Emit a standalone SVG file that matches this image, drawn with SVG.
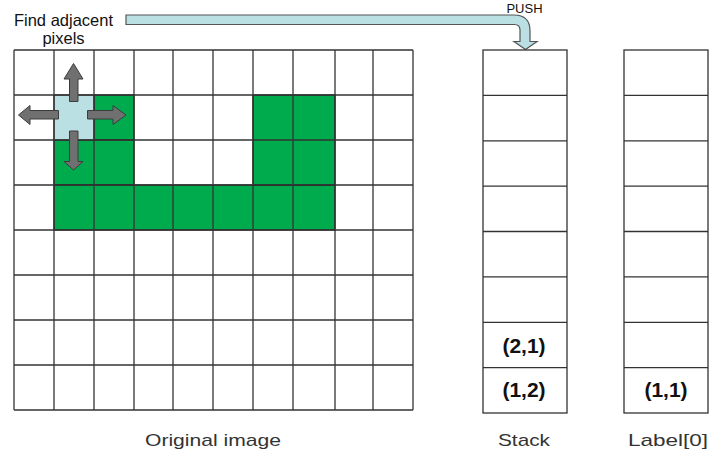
<svg xmlns="http://www.w3.org/2000/svg" width="727" height="473" viewBox="0 0 727 473">
<style>
.grid line{stroke:#333;stroke-width:1.3}
.cell{fill:none;stroke:#333;stroke-width:1.3}
.green{fill:#00ab4e;stroke:#222;stroke-width:1.3}
.arr{fill:#707070;stroke:#3c3c3c;stroke-width:1}
.lbl{font-family:"Liberation Sans",Arial,sans-serif;fill:#111}
.cap{font-family:"Liberation Sans",Arial,sans-serif;fill:#333;font-size:17px}
.val{font-family:"Liberation Sans",Arial,sans-serif;font-weight:bold;font-size:21px;fill:#111;text-anchor:middle}
</style>
<rect width="727" height="473" fill="#fff"/>
<g id="original-image">
<rect x="94" y="95" width="40" height="45" class="green"/>
<rect x="54" y="140" width="80" height="45" class="green"/>
<rect x="54" y="185" width="281" height="45" class="green"/>
<rect x="253" y="95" width="82" height="90" class="green"/>
<rect x="54" y="95" width="40" height="45" fill="#bbe0e4" stroke="#333" stroke-width="1.3"/>
<g class="grid">
<line x1="14" y1="50" x2="14" y2="410"/><line x1="54" y1="50" x2="54" y2="410"/><line x1="94" y1="50" x2="94" y2="410"/><line x1="134" y1="50" x2="134" y2="410"/><line x1="173" y1="50" x2="173" y2="410"/><line x1="213" y1="50" x2="213" y2="410"/><line x1="253" y1="50" x2="253" y2="410"/><line x1="293" y1="50" x2="293" y2="410"/><line x1="335" y1="50" x2="335" y2="410"/><line x1="373" y1="50" x2="373" y2="410"/><line x1="413" y1="50" x2="413" y2="410"/>
<line x1="14" y1="50" x2="413" y2="50"/><line x1="14" y1="95" x2="413" y2="95"/><line x1="14" y1="140" x2="413" y2="140"/><line x1="14" y1="185" x2="413" y2="185"/><line x1="14" y1="230" x2="413" y2="230"/><line x1="14" y1="275" x2="413" y2="275"/><line x1="14" y1="320" x2="413" y2="320"/><line x1="14" y1="365" x2="413" y2="365"/><line x1="14" y1="410" x2="413" y2="410"/>
</g>
<text class="cap" x="213" y="446" text-anchor="middle" textLength="136" lengthAdjust="spacingAndGlyphs">Original image</text>
</g>
<g id="adjacent-arrows">
<path class="arr" d="M69.5,101.5 L69.5,79 L64,79 L73.5,63.5 L83,79 L78,79 L78,101.5 Z"/>
<path class="arr" d="M58.5,110.5 L30,110.5 L30,105.5 L18.5,115 L30,124.5 L30,119 L58.5,119 Z"/>
<path class="arr" d="M87.5,110.5 L113,110.5 L113,105.5 L126,115 L113,124.5 L113,119 L87.5,119 Z"/>
<path class="arr" d="M69.5,131 L69.5,161.5 L64,161.5 L73.5,170 L83,161.5 L78,161.5 L78,131 Z"/>
<text class="lbl" x="63.5" y="26" font-size="16.5" text-anchor="middle">Find adjacent</text>
<text class="lbl" x="63.5" y="44" font-size="16.5" text-anchor="middle">pixels</text>
</g>
<g id="connectors">
<path d="M126,15 L514,15 Q530,15 530,31 L530,41.5 L537,41.5 L525.5,49.5 L514,41.5 L520,41.5 L520,30 Q520,24.5 514.5,24.5 L126,24.5 Z" fill="#bbe0e4" stroke="#555" stroke-width="1.2"/>
<text class="lbl" x="524.5" y="13" font-size="13" text-anchor="middle">PUSH</text>
</g>
<g id="stack">
<rect class="cell" x="483" y="50" width="84" height="363"/>
<g class="grid">
<line x1="483" y1="95.4" x2="567" y2="95.4"/><line x1="483" y1="140.8" x2="567" y2="140.8"/><line x1="483" y1="186.1" x2="567" y2="186.1"/><line x1="483" y1="231.5" x2="567" y2="231.5"/><line x1="483" y1="276.9" x2="567" y2="276.9"/><line x1="483" y1="322.3" x2="567" y2="322.3"/><line x1="483" y1="367.6" x2="567" y2="367.6"/>
</g>
<text class="val" x="524" y="353">(2,1)</text>
<text class="val" x="524" y="397">(1,2)</text>
<text class="cap" x="524" y="446" text-anchor="middle" textLength="52" lengthAdjust="spacingAndGlyphs">Stack</text>
</g>
<g id="label0">
<rect class="cell" x="624" y="50" width="84" height="363"/>
<g class="grid">
<line x1="624" y1="95.4" x2="708" y2="95.4"/><line x1="624" y1="140.8" x2="708" y2="140.8"/><line x1="624" y1="186.1" x2="708" y2="186.1"/><line x1="624" y1="231.5" x2="708" y2="231.5"/><line x1="624" y1="276.9" x2="708" y2="276.9"/><line x1="624" y1="322.3" x2="708" y2="322.3"/><line x1="624" y1="367.6" x2="708" y2="367.6"/>
</g>
<text class="val" x="666" y="397">(1,1)</text>
<text class="cap" x="668" y="446" text-anchor="middle" textLength="80" lengthAdjust="spacingAndGlyphs">Label[0]</text>
</g>
</svg>
